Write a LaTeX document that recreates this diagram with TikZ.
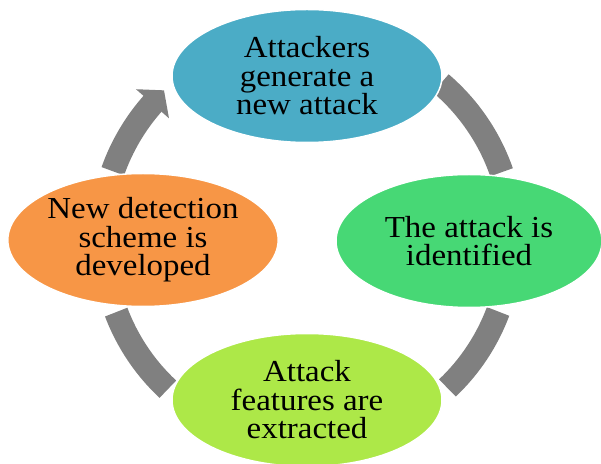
\documentclass[tikz,border=0pt]{standalone}
\usepackage{fontspec}
\setmainfont[FakeStretch=1.08]{Liberation Serif}
\usetikzlibrary{shapes.geometric}
\definecolor{cyclegray}{RGB}{128,128,128}
\definecolor{stageblue}{RGB}{75,172,198}
\definecolor{stagegreen}{RGB}{71,216,117}
\definecolor{stagelime}{RGB}{173,232,72}
\definecolor{stageorange}{RGB}{247,150,70}
\begin{document}
\begin{tikzpicture}[x=1pt,y=1pt,
  stage/.style={ellipse, minimum width=270pt, minimum height=133pt, inner sep=0pt,
    draw=white, line width=1.5pt, align=center, text=black,
    font=\fontsize{30.5}{28.5}\selectfont},
  band/.style={draw=cyclegray, line width=24pt}]
\useasboundingbox (0,0) rectangle (601,463);
\coordinate (hub) at (307,223);

% curved gray connectors around the cycle
\draw[band] ([shift={(160.5:206)}]hub) arc[start angle=160.5, end angle=138.3, radius=206];
\fill[cyclegray] ([shift={(138.6:228)}]hub) -- ([shift={(133.7:207)}]hub)
  -- ([shift={(138.6:184)}]hub) -- cycle;
\draw[band] ([shift={(49.5:206)}]hub) arc[start angle=49.5, end angle=19.2, radius=206];
\draw[band] ([shift={(-20.5:204)}]hub) arc[start angle=-20.5, end angle=-46.5, radius=204];
\draw[band] ([shift={(200.7:204)}]hub) arc[start angle=200.7, end angle=227, radius=204];

% the four stages
\node[stage, fill=stageblue]   (gen)  at (307,387) {Attackers\\generate a\\new attack};
\node[stage, fill=stagegreen, minimum width=266pt]  (idf)  at (469,222) {The attack is\\identified};
\node[stage, fill=stagelime]   (feat) at (307,63)  {Attack\\features are\\extracted};
\node[stage, fill=stageorange] (dev)  at (143,223) {New detection\\scheme is\\developed};
\end{tikzpicture}
\end{document}
